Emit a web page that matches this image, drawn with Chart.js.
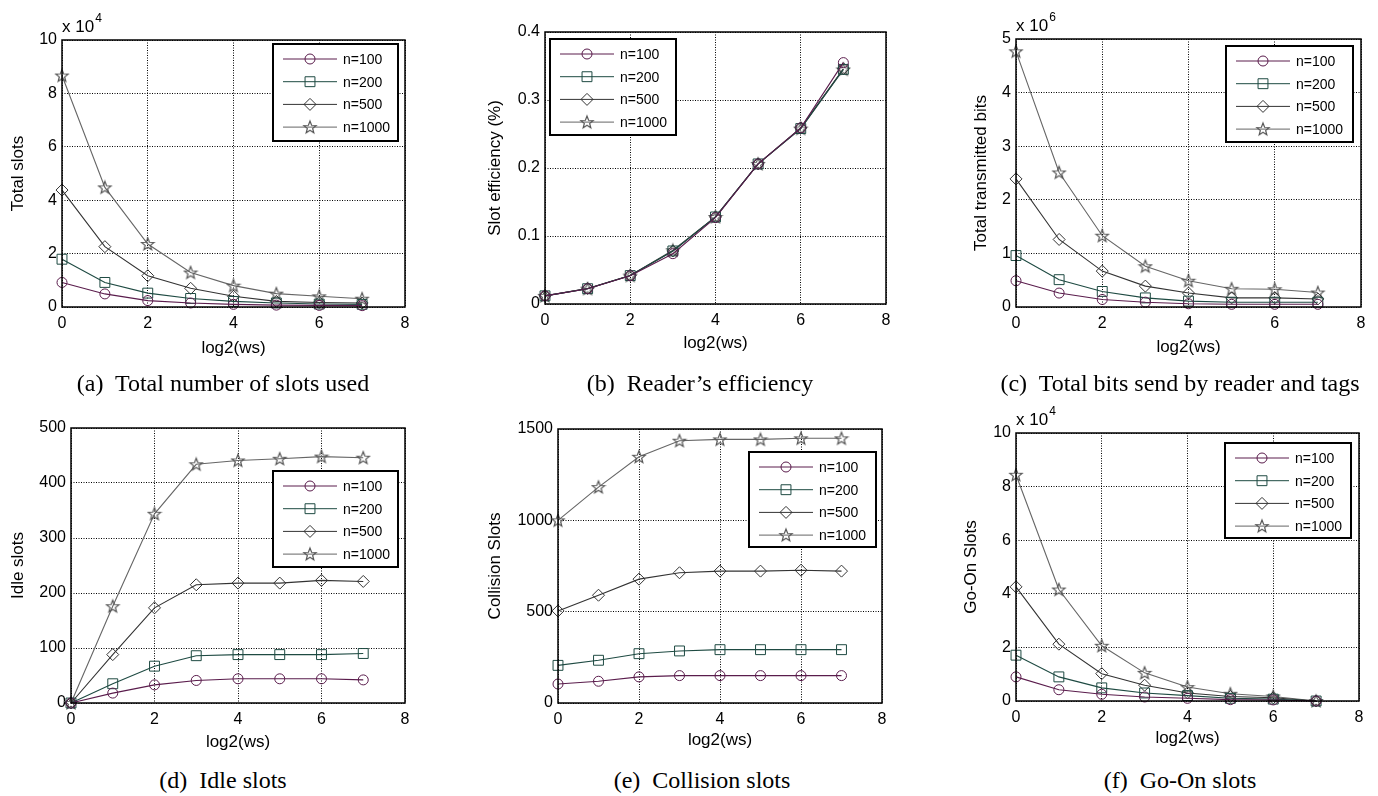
<!DOCTYPE html>
<html>
<head>
<meta charset="utf-8">
<script src="https://cdn.jsdelivr.net/npm/chart.js@4.4.0/dist/chart.umd.min.js"></script>
<style>
  body { margin: 0; background: #fff; }
  #page { position: relative; width: 1378px; height: 796px; overflow: hidden; background: #fff; }
  #page canvas { position: absolute; }
  .cap { position: absolute; width: 440px; text-align: center; white-space: pre; color: #000;
         font-family: 'Liberation Serif', 'Times New Roman', serif; font-size: 24px; line-height: 24px; }
</style>
</head>
<body>
<div id="page">
  <canvas id="cA"></canvas>
  <canvas id="cB"></canvas>
  <canvas id="cC"></canvas>
  <canvas id="cD"></canvas>
  <canvas id="cE"></canvas>
  <canvas id="cF"></canvas>
  <div class="cap" style="left:3px;top:371px">(a)  Total number of slots used</div>
  <div class="cap" style="left:480px;top:371px">(b)  Reader’s efficiency</div>
  <div class="cap" style="left:960px;top:371px">(c)  Total bits send by reader and tags</div>
  <div class="cap" style="left:3px;top:768px">(d)  Idle slots</div>
  <div class="cap" style="left:482px;top:768px">(e)  Collision slots</div>
  <div class="cap" style="left:960px;top:768px">(f)  Go-On slots</div>
</div>
<script>
// x values: log2(ws)
const wsLog = [0, 1, 2, 3, 4, 5, 6, 7];
const seriesNames = ['n=100', 'n=200', 'n=500', 'n=1000'];
const xTicks = [0, 2, 4, 6, 8];

// (a) total slots
const totalSlots100  = [9200, 4900, 2400, 1500, 1000, 700, 600, 500];
const totalSlots200  = [17900, 9200, 5200, 3200, 2100, 1500, 1100, 1000];
const totalSlots500  = [43800, 22600, 11700, 7000, 4000, 2100, 1700, 1500];
const totalSlots1000 = [86700, 44800, 23600, 12900, 8000, 5000, 4000, 3100];

// (b) slot efficiency
const eff100  = [0.012, 0.0225, 0.0416, 0.074, 0.127, 0.206, 0.259, 0.355];
const eff200  = [0.012, 0.0225, 0.0418, 0.078, 0.128, 0.206, 0.258, 0.345];
const eff500  = [0.012, 0.0228, 0.0420, 0.078, 0.128, 0.206, 0.259, 0.346];
const eff1000 = [0.012, 0.0226, 0.0418, 0.079, 0.128, 0.206, 0.258, 0.345];

// (c) total transmitted bits
const bits100  = [490000, 260000, 140000, 90000, 60000, 50000, 50000, 50000];
const bits200  = [960000, 510000, 290000, 170000, 110000, 90000, 90000, 90000];
const bits500  = [2390000, 1260000, 670000, 390000, 260000, 170000, 170000, 150000];
const bits1000 = [4770000, 2510000, 1330000, 760000, 490000, 340000, 330000, 270000];

// (d) idle slots
const idle100  = [0, 18, 33, 41, 44, 44, 44, 42];
const idle200  = [0, 35, 67, 86, 88, 88, 88, 90];
const idle500  = [0, 88, 173, 215, 218, 218, 223, 221];
const idle1000 = [0, 176, 344, 434, 441, 444, 448, 446];

// (e) collision slots
const coll100  = [104, 119, 143, 150, 150, 150, 150, 150];
const coll200  = [206, 234, 270, 285, 292, 292, 292, 292];
const coll500  = [504, 590, 678, 713, 722, 722, 727, 722];
const coll1000 = [1000, 1182, 1348, 1436, 1443, 1443, 1449, 1449];

// (f) go-on slots
const goOn100  = [9000, 4200, 2500, 1500, 1000, 500, 400, 0];
const goOn200  = [17100, 9000, 4900, 3000, 2000, 1000, 700, 0];
const goOn500  = [42600, 21200, 10200, 5900, 3000, 1700, 1200, 0];
const goOn1000 = [84400, 41600, 20600, 10500, 5200, 2700, 1700, 0];

const seriesColors = ['#5a1c4c', '#1e4a42', '#333333', '#666666'];
const FONT = "'Liberation Sans', Arial, sans-serif";

function starImage(color) {
  const c = document.createElement('canvas');
  c.width = 16; c.height = 16;
  const g = c.getContext('2d');
  g.strokeStyle = color;
  g.lineWidth = 1.2;
  g.beginPath();
  for (let i = 0; i < 10; i++) {
    const r = i % 2 === 0 ? 6.5 : 2.8;
    const a = -Math.PI / 2 + i * Math.PI / 5;
    const px = 8 + r * Math.cos(a), py = 8.5 + r * Math.sin(a);
    if (i === 0) g.moveTo(px, py); else g.lineTo(px, py);
  }
  g.closePath();
  g.stroke();
  return c;
}

const markers = [
  { style: 'circle', radius: 5 },
  { style: 'rect', radius: 7 },
  { style: 'rectRot', radius: 6 },
  { style: starImage('#555555'), radius: 6 }
];

function drawMarker(ctx, m, x, y, color) {
  ctx.strokeStyle = color;
  ctx.lineWidth = 1;
  ctx.beginPath();
  if (m.style === 'circle') {
    ctx.arc(x, y, m.radius, 0, Math.PI * 2);
  } else if (m.style === 'rect') {
    const s = m.radius * Math.SQRT1_2;
    ctx.rect(x - s, y - s, 2 * s, 2 * s);
  } else if (m.style === 'rectRot') {
    ctx.moveTo(x - m.radius, y); ctx.lineTo(x, y - m.radius);
    ctx.lineTo(x + m.radius, y); ctx.lineTo(x, y + m.radius);
    ctx.closePath();
  } else {
    ctx.drawImage(m.style, x - m.style.width / 2, y - m.style.height / 2);
    return;
  }
  ctx.stroke();
}

// page layout: canvas [x,y,w,h], plot [left,top,right,bottom], legend [x,y,w,h]
const panels = [
  { id: 'cA', canvas: [0, 0, 460, 370], plot: [62, 40, 405, 307], legend: [273, 44, 125, 97],
    series: [totalSlots100, totalSlots200, totalSlots500, totalSlots1000],
    yMax: 100000, yStep: 20000, yDiv: 1e4, exp: '4', yTitle: 'Total slots', yTitleX: 18, xTitleY: 348 },
  { id: 'cB', canvas: [460, 0, 458, 370], plot: [545, 32, 886, 304], legend: [550, 39, 126, 96],
    series: [eff100, eff200, eff500, eff1000],
    yMax: 0.4, yStep: 0.1, yDiv: 1, exp: null, yTitle: 'Slot efficiency (%)', yTitleX: 495, xTitleY: 343 },
  { id: 'cC', canvas: [918, 0, 460, 370], plot: [1016, 39, 1361, 307], legend: [1226, 46, 127, 96],
    series: [bits100, bits200, bits500, bits1000],
    yMax: 5000000, yStep: 1000000, yDiv: 1e6, exp: '6', yTitle: 'Total transmitted bits', yTitleX: 981, xTitleY: 347 },
  { id: 'cD', canvas: [0, 395, 460, 368], plot: [71, 428, 405, 703], legend: [273, 471, 125, 96],
    series: [idle100, idle200, idle500, idle1000],
    yMax: 500, yStep: 100, yDiv: 1, exp: null, yTitle: 'Idle slots', yTitleX: 18, xTitleY: 742 },
  { id: 'cE', canvas: [460, 395, 458, 368], plot: [558, 429, 882, 703], legend: [749, 452, 127, 95],
    series: [coll100, coll200, coll500, coll1000],
    yMax: 1500, yStep: 500, yDiv: 1, exp: null, yTitle: 'Collision Slots', yTitleX: 495, xTitleY: 740 },
  { id: 'cF', canvas: [918, 395, 460, 368], plot: [1016, 433, 1359, 701], legend: [1225, 443, 126, 95],
    series: [goOn100, goOn200, goOn500, goOn1000],
    yMax: 100000, yStep: 20000, yDiv: 1e4, exp: '4', yTitle: 'Go-On Slots', yTitleX: 971, xTitleY: 738 }
];

function framePlugin(p) {
  const cx = p.canvas[0], cy = p.canvas[1];
  return {
    id: 'matlabFrame',
    afterDatasetsDraw(chart) {
      const { ctx, chartArea: a } = chart;
      ctx.save();
      ctx.strokeStyle = '#000';
      ctx.lineWidth = 1.5;
      ctx.strokeRect(a.left, a.top, a.right - a.left, a.bottom - a.top);
      ctx.restore();
    },
    afterDraw(chart) {
      const { ctx, chartArea: a } = chart;
      ctx.save();
      if (p.exp) {
        ctx.fillStyle = '#000';
        ctx.textBaseline = 'alphabetic';
        ctx.textAlign = 'left';
        ctx.font = '17px ' + FONT;
        ctx.fillText('x 10', a.left, a.top - 8);
        const w = ctx.measureText('x 10').width;
        ctx.font = '12px ' + FONT;
        ctx.fillText(p.exp, a.left + w + 1, a.top - 18);
      }
      const lx = p.legend[0] - cx, ly = p.legend[1] - cy, lw = p.legend[2], lh = p.legend[3];
      ctx.fillStyle = '#fff';
      ctx.fillRect(lx, ly, lw, lh);
      ctx.strokeStyle = '#000';
      ctx.lineWidth = 2;
      ctx.strokeRect(lx, ly, lw, lh);
      chart.data.datasets.forEach((ds, i) => {
        const y = ly + 15 + i * 22.7;
        ctx.strokeStyle = ds.borderColor;
        ctx.lineWidth = 1;
        ctx.beginPath();
        ctx.moveTo(lx + 10, y);
        ctx.lineTo(lx + 64, y);
        ctx.stroke();
        drawMarker(ctx, markers[i], lx + 37, y, ds.borderColor);
        ctx.fillStyle = '#000';
        ctx.font = '14px ' + FONT;
        ctx.textAlign = 'left';
        ctx.textBaseline = 'middle';
        ctx.fillText(ds.label, lx + 70, y + 1);
      });
      ctx.restore();
    }
  };
}

panels.forEach(p => {
  const [cx, cy, cw, ch] = p.canvas;
  const [pl, pt, pr, pb] = p.plot;
  const el = document.getElementById(p.id);
  el.width = cw; el.height = ch;
  el.style.left = cx + 'px'; el.style.top = cy + 'px';
  el.style.width = cw + 'px'; el.style.height = ch + 'px';

  const datasets = p.series.map((vals, i) => ({
    label: seriesNames[i],
    data: vals.map((v, k) => ({ x: wsLog[k], y: v })),
    borderColor: seriesColors[i],
    backgroundColor: 'rgba(0,0,0,0)',
    borderWidth: 1.1,
    pointStyle: markers[i].style,
    pointRadius: markers[i].radius,
    pointBorderWidth: 1,
    pointBorderColor: seriesColors[i],
    pointBackgroundColor: 'rgba(0,0,0,0)',
    tension: 0,
    fill: false,
    clip: false
  }));

  new Chart(el, {
    type: 'line',
    data: { datasets: datasets },
    plugins: [framePlugin(p)],
    options: {
      responsive: false,
      animation: false,
      events: [],
      layout: { padding: { top: pt - cy, right: cx + cw - pr, left: 0, bottom: 0 } },
      plugins: { legend: { display: false }, tooltip: { enabled: false } },
      scales: {
        x: {
          type: 'linear', min: 0, max: 8,
          afterBuildTicks: s => { s.ticks = xTicks.map(v => ({ value: v })); },
          afterFit: s => { s.height = cy + ch - pb; },
          grid: { color: '#000', lineWidth: 1, drawTicks: false },
          border: { display: false, dash: [1, 1.5] },
          ticks: { color: '#000', font: { family: FONT, size: 16 }, padding: 7, maxRotation: 0, autoSkip: false },
          title: { display: true, text: 'log2(ws)', color: '#000', font: { family: FONT, size: 17 },
                   padding: { top: 0, bottom: (cy + ch - p.xTitleY) - 10.2 } }
        },
        y: {
          type: 'linear', min: 0, max: p.yMax,
          ticks: { stepSize: p.yStep, color: '#000', font: { family: FONT, size: 16 }, padding: 5,
                   callback: v => String(Math.round(v / p.yDiv * 1000) / 1000) },
          afterFit: s => { s.width = pl - cx; },
          grid: { color: '#000', lineWidth: 1, drawTicks: false },
          border: { display: false, dash: [1, 1.5] },
          title: { display: true, text: p.yTitle, color: '#000', font: { family: FONT, size: 17 },
                   padding: { top: (p.yTitleX - cx) - 10.2, bottom: 0 } }
        }
      }
    }
  });
});
</script>
</body>
</html>
